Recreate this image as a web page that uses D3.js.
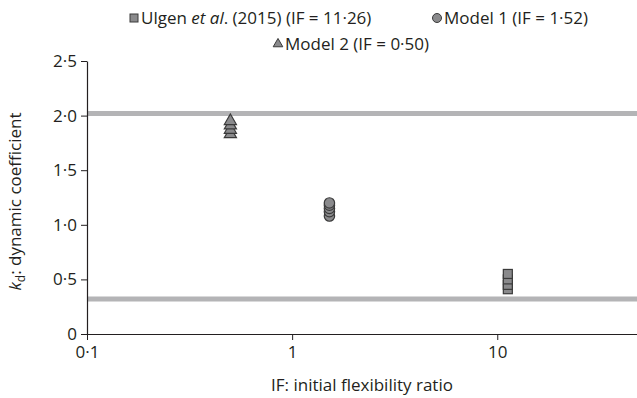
<!DOCTYPE html>
<html>
<head>
<meta charset="utf-8">
<script src="https://cdn.jsdelivr.net/npm/d3@7"></script>
<style>
  body { margin: 0; background: #fff; }
  svg text { font-family: "Open Sans", sans-serif; fill: #231f20; }
  .axis path, .axis line { stroke: #231f20; }
</style>
</head>
<body>
<div id="chart"></div>
<script>
// data
var ulgenIF = 11.26;
var ulgenKd = [0.41, 0.45, 0.50, 0.55];
var model1IF = 1.52;
var model1Kd = [1.08, 1.12, 1.15, 1.18, 1.20];
var model2IF = 0.50;
var model2Kd = [1.83, 1.87, 1.91, 1.95];
var limitLines = [2.02, 0.32];
var xTicks = [0.1, 1, 10];
var yTicks = [0, 0.5, 1, 1.5, 2, 2.5];

var w = 637, h = 398;
var padLeft = 87, padRight = 637, padTop = 61, padBottom = 334;
var fontSize = '17px';

var fmt = function(d){ return String(d).replace('.', '\u00b7'); };
var fmtY = function(d){ return d === 0 ? '0' : d3.format('.1f')(d).replace('.', '\u00b7'); };

var xScale = d3.scaleLog()
    .domain([0.1, 48])
    .range([padLeft, padRight]);

var yScale = d3.scaleLinear()
    .domain([0, 2.5])
    .range([padBottom, padTop]);

var svg = d3.select('#chart')
    .append('svg')
    .attr('width', w)
    .attr('height', h);

// grey limit lines
svg.selectAll('.limit')
    .data(limitLines)
    .enter()
    .append('line')
    .attr('x1', padLeft)
    .attr('x2', padRight)
    .attr('y1', function(d){ return yScale(d); })
    .attr('y2', function(d){ return yScale(d); })
    .attr('stroke', '#b4b4b6')
    .attr('stroke-width', 5);

var xAxis = d3.axisBottom(xScale).tickValues(xTicks).tickFormat(fmt).tickSize(6).tickSizeOuter(0);
var yAxis = d3.axisLeft(yScale).tickValues(yTicks).tickFormat(fmtY).tickSize(6).tickSizeOuter(0);

svg.append('g')
    .attr('class', 'x axis')
    .attr('transform', 'translate(0,' + padBottom + ')')
    .call(xAxis)
    .call(function(g){
        g.selectAll('text').style('font-size', fontSize).attr('dy', '0.9em');
        g.select('.domain').attr('stroke-width', 1.2);
    });

svg.append('g')
    .attr('class', 'y axis')
    .attr('transform', 'translate(' + padLeft + ',0)')
    .call(yAxis)
    .call(function(g){
        g.selectAll('text').style('font-size', fontSize).attr('x', -10);
        g.select('.domain').attr('stroke-width', 1.2);
    });

// markers
var markFill = '#8a8a8c', markStroke = '#3a3a3a';

svg.selectAll('.sq')
    .data(ulgenKd)
    .enter()
    .append('rect')
    .attr('x', xScale(ulgenIF) - 4.5)
    .attr('y', function(d){ return yScale(d) - 4.5; })
    .attr('width', 9)
    .attr('height', 9)
    .attr('fill', markFill)
    .attr('stroke', markStroke)
    .attr('stroke-width', 1.2);

svg.selectAll('.ci')
    .data(model1Kd)
    .enter()
    .append('circle')
    .attr('cx', xScale(model1IF))
    .attr('cy', function(d){ return yScale(d); })
    .attr('r', 5.2)
    .attr('fill', markFill)
    .attr('stroke', markStroke)
    .attr('stroke-width', 1.2);

var tri = d3.symbol().type(d3.symbolTriangle).size(64);
svg.selectAll('.tr')
    .data(model2Kd)
    .enter()
    .append('path')
    .attr('d', tri)
    .attr('transform', function(d){ return 'translate(' + xScale(model2IF) + ',' + yScale(d) + ')'; })
    .attr('fill', markFill)
    .attr('stroke', markStroke)
    .attr('stroke-width', 1.2);

// legend
var leg = svg.append('g').style('font-size', fontSize);

leg.append('rect').attr('x', 130).attr('y', 14).attr('width', 8).attr('height', 8)
    .attr('fill', markFill).attr('stroke', markStroke);
var t1 = leg.append('text').attr('x', 141).attr('y', 24);
t1.append('tspan').text('Ulgen ');
t1.append('tspan').style('font-style', 'italic').text('et al');
t1.append('tspan').text('. (2015) (IF = 11\u00b726)');

leg.append('circle').attr('cx', 437).attr('cy', 18).attr('r', 4.5)
    .attr('fill', markFill).attr('stroke', markStroke);
leg.append('text').attr('x', 444).attr('y', 24).text('Model 1 (IF = 1\u00b752)');

leg.append('path').attr('d', d3.symbol().type(d3.symbolTriangle).size(40))
    .attr('transform', 'translate(278,44)')
    .attr('fill', markFill).attr('stroke', markStroke);
leg.append('text').attr('x', 285).attr('y', 50).text('Model 2 (IF = 0\u00b750)');

// axis titles
svg.append('text')
    .attr('x', (padLeft + padRight) / 2)
    .attr('y', 391)
    .style('text-anchor', 'middle')
    .style('font-size', fontSize)
    .text('IF: initial flexibility ratio');

var yt = svg.append('text')
    .attr('transform', 'translate(21,' + ((padTop + padBottom) / 2 + 4) + ') rotate(-90)')
    .style('text-anchor', 'middle')
    .style('font-size', fontSize);
yt.append('tspan').style('font-style', 'italic').text('k');
yt.append('tspan').attr('dy', 4).style('font-size', '12px').text('d');
yt.append('tspan').attr('dy', -4).text(': dynamic coefficient');
</script>
</body>
</html>
